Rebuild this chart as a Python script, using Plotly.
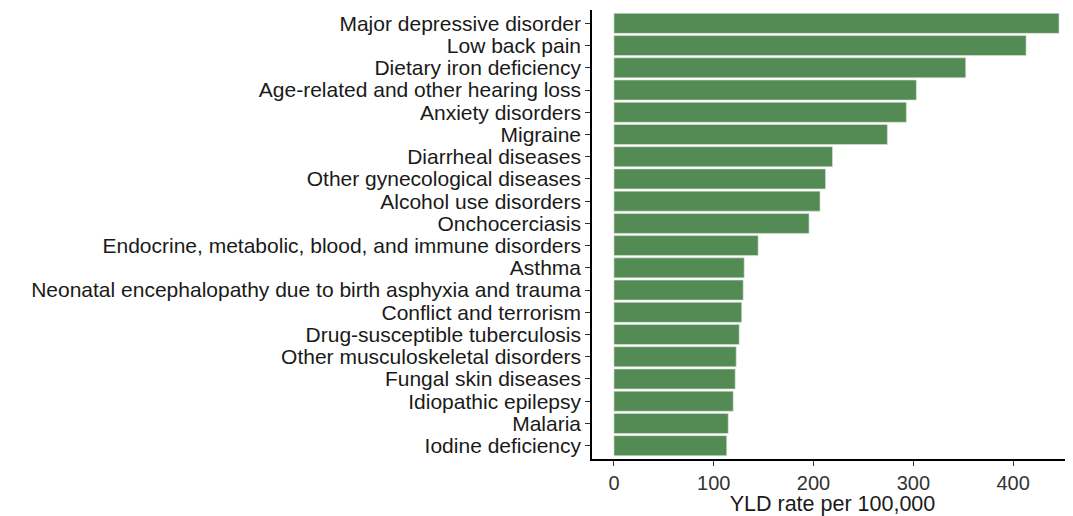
import plotly.graph_objects as go

# Causes ordered top to bottom, as in the chart
causes = [
    "Major depressive disorder",
    "Low back pain",
    "Dietary iron deficiency",
    "Age-related and other hearing loss",
    "Anxiety disorders",
    "Migraine",
    "Diarrheal diseases",
    "Other gynecological diseases",
    "Alcohol use disorders",
    "Onchocerciasis",
    "Endocrine, metabolic, blood, and immune disorders",
    "Asthma",
    "Neonatal encephalopathy due to birth asphyxia and trauma",
    "Conflict and terrorism",
    "Drug-susceptible tuberculosis",
    "Other musculoskeletal disorders",
    "Fungal skin diseases",
    "Idiopathic epilepsy",
    "Malaria",
    "Iodine deficiency",
]
yld_rate = [446, 413, 352.5, 303, 293, 274, 219, 212, 206.5, 195.5,
            144.5, 130.5, 129.5, 128, 125.5, 122.5, 121.5, 119.5, 114.5, 113]

x_ticks = [0, 100, 200, 300, 400]

fig = go.Figure(go.Bar(
    x=yld_rate,
    y=causes,
    orientation="h",
    marker=dict(color="#548b54", line=dict(color="#d8e6d8", width=0.6)),
))

# the page body adds an 8px margin, so the figure is shrunk by that much
fig.update_layout(
    width=1065, height=508,
    margin=dict(l=584, r=0, t=2, b=57, autoexpand=False),
    plot_bgcolor="white", paper_bgcolor="white",
    bargap=0.1,
    showlegend=False,
    font=dict(family="Liberation Sans, Arial, sans-serif", size=21, color="#1a1a1a"),
)
fig.update_xaxes(
    range=[-22, 460],
    tickvals=x_ticks,
    automargin=False,
    showgrid=False, zeroline=False,
    showline=True, linecolor="black", linewidth=1.5,
    ticks="outside", ticklen=5, tickcolor="#333333", tickwidth=1.2,
    tickfont=dict(size=20, color="#333333"),
    title=dict(text="YLD rate per 100,000", font=dict(size=21.5, color="#1a1a1a"), standoff=3),
)
fig.update_yaxes(
    categoryorder="array", categoryarray=causes[::-1],
    tickmode="linear", dtick=1,
    range=[-0.6, len(causes) - 0.4],
    automargin=False,
    showgrid=False, zeroline=False,
    showline=True, linecolor="black", linewidth=1.5,
    ticks="outside", ticklen=5, tickcolor="#333333", tickwidth=1.2,
    tickfont=dict(size=21, color="#1a1a1a"),
)

fig.write_html("out.html")
